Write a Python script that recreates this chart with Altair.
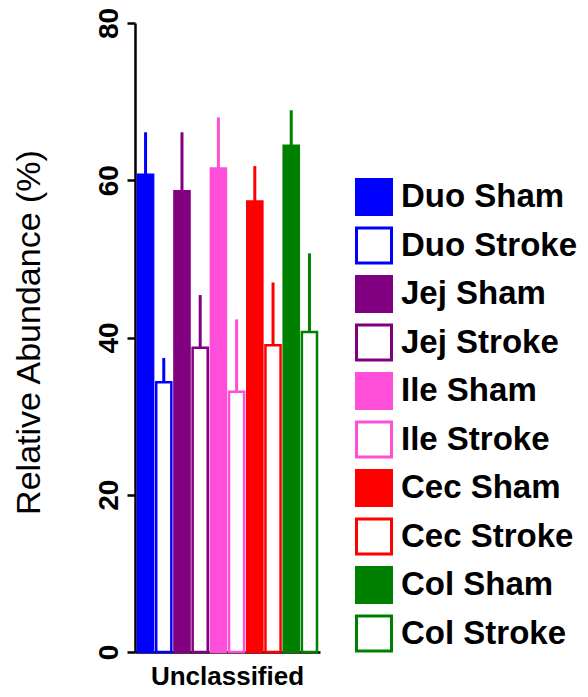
import altair as alt
import pandas as pd

groups = ["Duo Sham", "Duo Stroke", "Jej Sham", "Jej Stroke", "Ile Sham",
          "Ile Stroke", "Cec Sham", "Cec Stroke", "Col Sham", "Col Stroke"]
means = [60.7, 34.3, 58.6, 38.7, 61.5, 33.1, 57.3, 39.0, 64.4, 40.7]
errors = [5.4, 3.1, 7.5, 6.7, 6.5, 9.2, 4.5, 8.0, 4.5, 10.0]
category = "Unclassified"

line_colors = ["#0000FF", "#0000FF", "#800080", "#800080", "#FF4FD8",
               "#FF4FD8", "#FF0000", "#FF0000", "#008000", "#008000"]
fill_colors = ["#0000FF", "#FFFFFF", "#800080", "#FFFFFF", "#FF4FD8",
               "#FFFFFF", "#FF0000", "#FFFFFF", "#008000", "#FFFFFF"]

df = pd.DataFrame({
    "category": [category] * len(groups),
    "group": groups,
    "mean": means,
    "upper": [m + e for m, e in zip(means, errors)],
})

FONT = "Liberation Sans"

legend = alt.Legend(
    title=None, orient="none", legendX=220, legendY=155,
    symbolType="square", symbolSize=1225, symbolStrokeWidth=3,
    labelFont=FONT, labelFontSize=33, labelFontWeight="bold",
    labelColor="black", labelLimit=400, labelOffset=8,
    rowPadding=0.5, padding=0, symbolOpacity=1,
)

x_enc = alt.X("category:N", title=None,
              scale=alt.Scale(paddingInner=0, paddingOuter=0),
              axis=alt.Axis(labelAngle=0, labelAlign="center",
                            labelFont=FONT, labelFontSize=26,
                            labelFontWeight="bold", labelColor="black",
                            labelBaseline="alphabetic", labelPadding=32,
                            ticks=False, tickSize=0, domainColor="black",
                            domainWidth=2.5))
xoff_enc = alt.XOffset("group:N", sort=groups,
                       scale=alt.Scale(domain=groups, paddingInner=0.17,
                                       paddingOuter=0.165))

stroke_enc = alt.Stroke("group:N", sort=groups,
                        scale=alt.Scale(domain=groups, range=line_colors),
                        legend=legend)

bars = alt.Chart(df).mark_bar(strokeWidth=2.5, opacity=1).encode(
    x=x_enc,
    xOffset=xoff_enc,
    y=alt.Y("mean:Q", title="Relative Abundance (%)",
            scale=alt.Scale(domain=[0, 80], nice=False),
            axis=alt.Axis(values=[0, 20, 40, 60, 80], labelAngle=-90,
                          labelAlign="center", labelBaseline="alphabetic",
                          labelPadding=10, tickSize=8, tickWidth=2.5,
                          tickColor="black", domainColor="black",
                          domainWidth=2.5, grid=False,
                          labelFont=FONT, labelFontSize=28,
                          labelFontWeight="bold", labelColor="black",
                          titleFont=FONT, titleFontSize=34,
                          titleFontWeight="normal", titleColor="black",
                          titleAngle=270, titleAlign="center",
                          titleBaseline="alphabetic", titleX=-96,
                          titleY=309)),
    fill=alt.Fill("group:N", sort=groups,
                  scale=alt.Scale(domain=groups, range=fill_colors),
                  legend=legend),
    stroke=stroke_enc,
)

errs = alt.Chart(df).mark_rule(strokeWidth=3).encode(
    x=alt.X("category:N"),
    xOffset=alt.XOffset("group:N", sort=groups),
    y=alt.Y("mean:Q"),
    y2=alt.Y2("upper:Q"),
    stroke=stroke_enc,
)

chart = alt.layer(errs, bars).properties(
    width=185, height=629,
    background="white",
    autosize=alt.AutoSizeParams(type="none"),
    padding={"left": 127, "top": 15, "right": 260, "bottom": 37},
).configure_view(stroke=None)

chart.save("out.html", embed_options={"renderer": "svg", "actions": False})
